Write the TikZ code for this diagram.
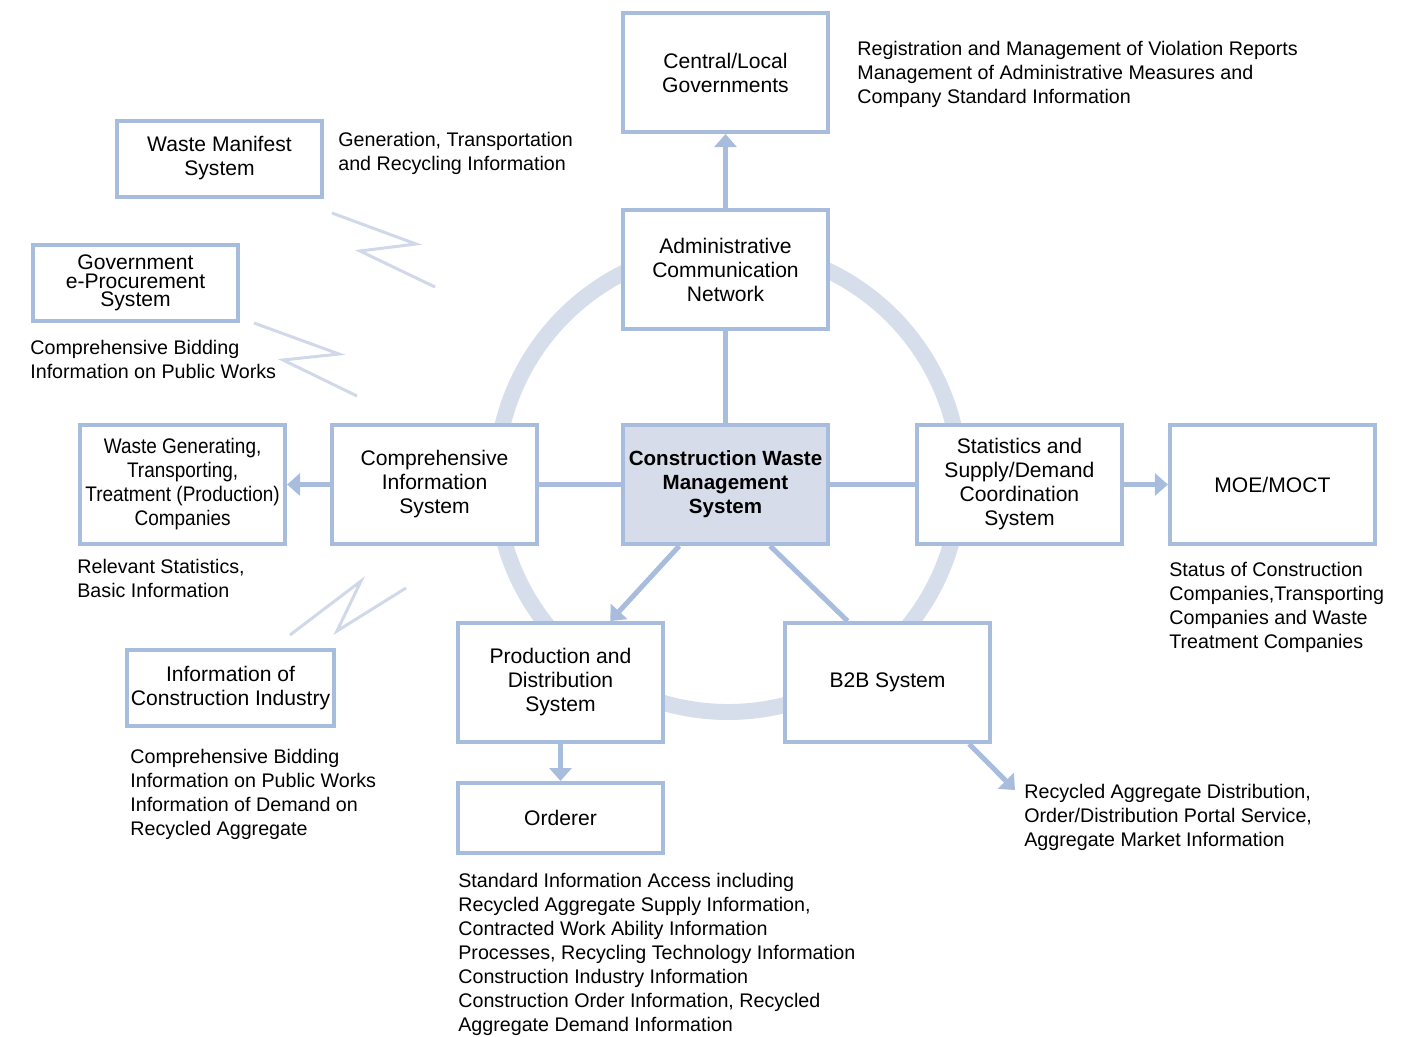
\documentclass[tikz,border=0pt]{standalone}
\usepackage{fontspec}
\setmainfont{Liberation Sans}
\newfontfamily\narrowfont[FakeStretch=0.9]{Liberation Sans}
\usetikzlibrary{arrows.meta, positioning}

\definecolor{boxline}{RGB}{168,188,221}
\definecolor{ringcol}{RGB}{215,222,235}
\definecolor{hubfill}{RGB}{214,220,233}
\definecolor{zigcol}{RGB}{208,216,233}

\begin{document}
\begin{tikzpicture}[
  x=0.02cm, y=-0.02cm,
  every node/.style={font=\fontsize{12}{13.66}\selectfont},
  sysbox/.style={rectangle, draw=boxline, line width=0.08cm, fill=white,
                 minimum width=4.1cm, minimum height=2.38cm, align=center,
                 inner sep=0.08cm},
  smallbox/.style={sysbox, minimum height=1.52cm},
  note/.style={font=\fontsize{11.2}{13.66}\selectfont, align=left,
               anchor=north west, inner sep=0pt},
  link/.style={draw=boxline, line width=0.1cm},
  headed/.style={-{Triangle[width=0.44cm, length=0.26cm]}},
  zigzag/.style={draw=zigcol, line width=0.06cm}
]
  \useasboundingbox (0,0) rectangle (1427,1036);

  % ring behind the systems
  \draw[ringcol, line width=0.32cm] (728,480) circle [radius=232];

  % systems
  \node[sysbox, fill=hubfill, font=\bfseries\fontsize{11.7}{13.66}\selectfont]
    (cwms) at (725.5,484.5) {Construction Waste\\Management\\System};
  \node[sysbox, above=1.84cm of cwms] (admin) {Administrative\\Communication\\Network};
  \node[sysbox, above=1.48cm of admin] (central) {Central/Local\\Governments};
  \node[sysbox, left=1.64cm of cwms] (comp) {Comprehensive\\Information\\System};
  \node[sysbox, left=0.86cm of comp, font=\narrowfont\fontsize{12}{13.66}\selectfont]
    (wastegen) {Waste Generating,\\Transporting,\\Treatment (Production)\\Companies};
  \node[sysbox, right=1.7cm of cwms] (stats) {Statistics and\\Supply/Demand\\Coordination\\System};
  \node[sysbox, right=0.88cm of stats] (moe) {MOE/MOCT};
  \node[sysbox] (prod) at (560.5,682.5) {Production and\\Distribution\\System};
  \node[sysbox] (b2b) at (887.5,682.5) {B2B System};
  \node[sysbox, minimum height=1.4cm, below=0.74cm of prod] (orderer) {Orderer};
  \node[smallbox] (manifest) at (219.5,158.5) {Waste Manifest\\System};
  \node[smallbox, font=\fontsize{12}{10.4}\selectfont]
    (eproc) at (135.5,283) {Government\\e-Procurement\\System};
  \node[smallbox] (industry) at (230.5,688) {Information of\\Construction Industry};

  % information flows
  \node[note] (regnote) at (857,41) {Registration and Management of Violation Reports\\Management of Administrative Measures and\\Company Standard Information};
  \node[note] (manifestnote) at (338,132) {Generation, Transportation\\and Recycling Information};
  \node[note] (eprocnote) at (30,340) {Comprehensive Bidding\\Information on Public Works};
  \node[note] (statnote) at (77,559) {Relevant Statistics,\\Basic Information};
  \node[note] (industrynote) at (130,749) {Comprehensive Bidding\\Information on Public Works\\Information of Demand on\\Recycled Aggregate};
  \node[note] (ordernote) at (458,873) {Standard Information Access including\\Recycled Aggregate Supply Information,\\Contracted Work Ability Information\\Processes, Recycling Technology Information\\Construction Industry Information\\Construction Order Information, Recycled\\Aggregate Demand Information};
  \node[note] (b2bnote) at (1024,784) {Recycled Aggregate Distribution,\\Order/Distribution Portal Service,\\Aggregate Market Information};
  \node[note] (moenote) at (1169,562) {Status of Construction\\Companies,Transporting\\Companies and Waste\\Treatment Companies};
  \coordinate (b2bend) at (1015,790);

  % connectors
  \draw[link, headed] (admin) -- (central);
  \draw[link] (admin) -- (cwms);
  \draw[link] (cwms) -- (comp);
  \draw[link, headed] (comp) -- (wastegen);
  \draw[link] (cwms) -- (stats);
  \draw[link, headed] (stats) -- (moe);
  \draw[link, headed] (cwms.233) -- (prod.51);
  \draw[link] (cwms.306) -- (b2b.123);
  \draw[link, headed] (prod) -- (orderer);
  \draw[link, headed] (b2b.-37) -- (b2bend);

  % links from outside systems
  \draw[zigzag] (332,213) -- (416,244) -- (360,251) -- (435,287);
  \draw[zigzag] (254,323) -- (339,354) -- (283,360) -- (357,396);
  \draw[zigzag] (290,635) -- (361,581) -- (337,631) -- (406,588);
\end{tikzpicture}
\end{document}
